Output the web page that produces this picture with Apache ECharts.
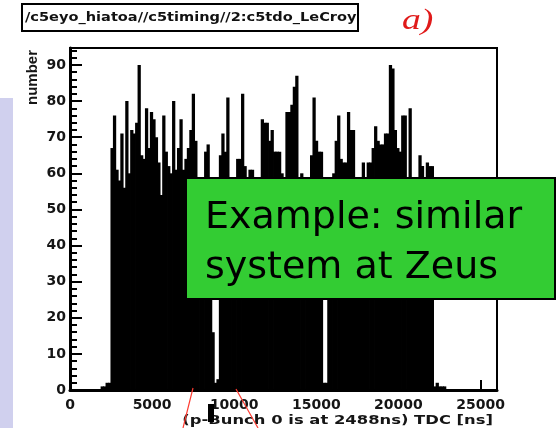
<!DOCTYPE html>
<html>
<head>
<meta charset="utf-8">
<script src="https://cdn.jsdelivr.net/npm/echarts@6/dist/echarts.min.js"></script>
<style>
  html, body { margin: 0; padding: 0; background: #fff; }
  #chart { width: 556px; height: 428px; }
</style>
</head>
<body>
<div id="chart"></div>
<script>
// TDC time spectrum, 150 ns bins starting at 1888 ns
const binStart = 1888;
const binWidth = 150;
const counts = [
  1, 1, 2, 2,
  67, 76, 61, 58, 71, 56, 80, 60, 72, 71,
  74, 90, 65, 64, 78, 67, 77, 75, 70, 63,
  54, 76, 66, 62, 60, 80, 61, 67, 75, 61,
  64, 67, 72, 82, 69, 52, 48, 55, 66, 68,
  50, 16, 2, 3, 65, 71, 66, 81, 55, 50,
  57, 64, 64, 82, 62, 52, 61, 61, 55, 48,
  56, 75, 74, 74, 69, 72, 66, 66, 66, 60,
  57, 77, 77, 79, 84, 87, 58, 60, 40, 52,
  55, 65, 81, 69, 66, 66, 2, 2, 50, 54,
  60, 69, 76, 64, 63, 63, 77, 72, 72, 50,
  45, 55, 63, 52, 63, 63, 67, 73, 69, 68,
  68, 71, 71, 90, 89, 72, 67, 66, 76, 76,
  56, 78, 52, 50, 48, 65, 62, 45, 63, 62,
  62, 1, 2, 1, 1, 1
];

const xTicks = [0, 5000, 10000, 15000, 20000, 25000];
const yTicks = [0, 10, 20, 30, 40, 50, 60, 70, 80, 90];
const xTitle = '(p-Bunch 0 is at 2488ns) TDC [ns]';
const yTitle = 'number';
const histName = '/c5eyo_hiatoa//c5timing//2:c5tdo_LeCroy';
const panelTag = 'a)';
const noteLines = ['Example: similar', 'system at Zeus'];

const bins = counts.map((c, i) => [binStart + i * binWidth, binStart + (i + 1) * binWidth, c]);

const chart = echarts.init(document.getElementById('chart'), null, { renderer: 'canvas' });

const labelFont = { fontFamily: 'DejaVu Sans', fontWeight: 'bold', fontSize: 14, color: '#151515' };

chart.setOption({
  animation: false,
  backgroundColor: '#fff',
  grid: {
    left: 70, right: 59, top: 48, bottom: 38,
    show: true, borderColor: '#000', borderWidth: 2, backgroundColor: 'transparent'
  },
  xAxis: {
    type: 'value',
    min: 0, max: 26000, interval: 5000,
    axisLine: { show: true, onZero: false, lineStyle: { color: '#000', width: 3 } },
    axisTick: { show: true, inside: true, length: 10, lineStyle: { color: '#000', width: 2 } },
    axisLabel: Object.assign({ margin: 8, showMaxLabel: false,
      formatter: v => (xTicks.indexOf(v) >= 0 ? String(v) : '') }, labelFont),
    splitLine: { show: false }
  },
  yAxis: {
    type: 'value',
    min: 0, max: 94.7, interval: 10,
    axisLine: { show: true, lineStyle: { color: '#000', width: 3 } },
    axisTick: { show: true, inside: true, length: 12, lineStyle: { color: '#000', width: 2 } },
    minorTick: { show: true, splitNumber: 5, length: 7, lineStyle: { color: '#000', width: 2 } },
    axisLabel: Object.assign({ margin: 4, showMaxLabel: false,
      formatter: v => (yTicks.indexOf(v) >= 0 ? String(v) : '') }, labelFont),
    splitLine: { show: false }
  },
  series: [{
    type: 'custom',
    name: 'TDC',
    clip: true,
    data: bins,
    encode: { x: [0, 1], y: 2 },
    renderItem: function (params, api) {
      const top = api.coord([api.value(0), api.value(2)]);
      const base = api.coord([api.value(1), 0]);
      // slight overlap so neighbouring bins merge into one solid area
      return {
        type: 'rect',
        shape: { x: top[0] - 0.4, y: top[1], width: base[0] - top[0] + 0.8, height: base[1] - top[1] },
        style: { fill: '#000' }
      };
    }
  }],
  graphic: [
    // side panel strip
    { type: 'rect', z: 100, shape: { x: 0, y: 98, width: 13, height: 330 }, style: { fill: '#d0d0ee' } },
    // histogram name box
    { type: 'rect', z: 100, shape: { x: 22, y: 4, width: 336, height: 27 },
      style: { fill: '#fff', stroke: '#000', lineWidth: 2 } },
    { type: 'text', z: 101, x: 25, y: 18, scaleX: 1.12,
      style: { text: histName, fontFamily: 'DejaVu Sans', fontWeight: 'bold', fontSize: 13,
               fill: '#111', verticalAlign: 'middle' } },
    // panel tag
    { type: 'text', z: 101, x: 402, y: 21, scaleX: 1.3,
      style: { text: panelTag, fontFamily: 'Liberation Serif', fontStyle: 'italic', fontSize: 29,
               fill: '#e01a1a', verticalAlign: 'middle' } },
    // axis titles
    { type: 'text', z: 101, x: 33, y: 50, rotation: Math.PI / 2,
      style: { text: yTitle, fontFamily: 'Liberation Sans', fontWeight: 'bold', fontSize: 15,
               fill: '#151515', align: 'right', verticalAlign: 'middle' } },
    { type: 'text', z: 101, x: 493, y: 421, scaleX: 1.26,
      style: { text: xTitle, fontFamily: 'DejaVu Sans', fontWeight: 'bold', fontSize: 13,
               fill: '#151515', align: 'right', verticalAlign: 'middle' } },
    // pointer lines
    { type: 'line', z: 102, shape: { x1: 193, y1: 388, x2: 183, y2: 428 }, style: { stroke: '#ff3b30', lineWidth: 1.2 } },
    { type: 'line', z: 102, shape: { x1: 236, y1: 389, x2: 258, y2: 428 }, style: { stroke: '#ff3b30', lineWidth: 1.2 } },
    { type: 'rect', z: 102, shape: { x: 208, y: 404, width: 6, height: 18 }, style: { fill: '#000' } },
    // note box
    { type: 'rect', z: 110, shape: { x: 186, y: 178, width: 369, height: 121 },
      style: { fill: '#33cc33', stroke: '#000', lineWidth: 2 } },
    { type: 'text', z: 111, x: 205, y: 237,
      style: { text: noteLines[0], fontFamily: 'DejaVu Sans', fontSize: 38, fill: '#000', verticalAlign: 'bottom' } },
    { type: 'text', z: 111, x: 205, y: 287,
      style: { text: noteLines[1], fontFamily: 'DejaVu Sans', fontSize: 38, fill: '#000', verticalAlign: 'bottom' } }
  ]
});
</script>
</body>
</html>
